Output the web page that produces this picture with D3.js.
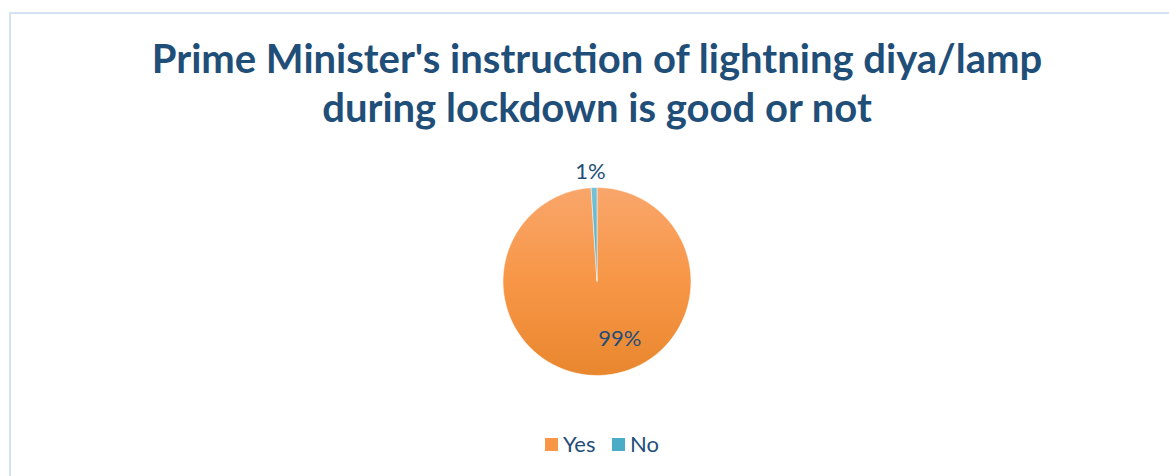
<!DOCTYPE html>
<meta charset="utf-8">
<style>
body { margin: 0; background: #fff; }
text { font-family: Lato, "Open Sans", sans-serif; fill: #1F4E79; }
</style>
<svg width="1169" height="476"></svg>
<script src="https://d3js.org/d3.v7.min.js"></script>
<script>

// survey answers
var categories = ["Yes", "No"];
var shares = [99, 1];
var labels = ["99%", "1%"];
var title_lines = ["Prime Minister's instruction of lightning diya/lamp",
                   "during lockdown is good or not"];

var svg = d3.select("svg"),
    width = +svg.attr("width"),
    height = +svg.attr("height");

var cx = 597, cy = 281.5, radius = 94;

// chart area frame (runs off the right and bottom edges)
svg.append("rect")
    .attr("x", 10)
    .attr("y", 13)
    .attr("width", width)
    .attr("height", height)
    .style("fill", "none")
    .style("stroke", "#D5E2F3")
    .style("stroke-width", 2);

// gradients for the slices (in the pie group's frame)
var defs = svg.append("defs");
var stops = {
  Yes: ["#F9A66B", "#F79646", "#E9872F"],
  No:  ["#74C2D8", "#4BACC6", "#3A9DB8"]
};
categories.forEach(function(c) {
  var lg = defs.append("linearGradient")
      .attr("id", "grad_" + c)
      .attr("gradientUnits", "userSpaceOnUse")
      .attr("x1", 0).attr("y1", -radius)
      .attr("x2", 0).attr("y2", radius);
  lg.append("stop").attr("offset", "0%").attr("stop-color", stops[c][0]);
  lg.append("stop").attr("offset", "50%").attr("stop-color", stops[c][1]);
  lg.append("stop").attr("offset", "100%").attr("stop-color", stops[c][2]);
});

// title
svg.append("g")
    .selectAll("text")
    .data(title_lines)
    .enter().append("text")
    .attr("x", cx)
    .attr("y", function(d, i) { return 73 + i * 49; })
    .attr("text-anchor", "middle")
    .style("font-size", "40px")
    .style("font-weight", "bold")
    .text(function(d) { return d; });

// pie
var pie = d3.pie().sort(null).value(function(d) { return d; });
var arc = d3.arc().innerRadius(0).outerRadius(radius);
var arcs = pie(shares);

var g = svg.append("g").attr("transform", "translate(" + cx + "," + cy + ")");

g.selectAll("path")
    .data(arcs)
    .enter().append("path")
    .attr("d", arc)
    .style("fill", function(d, i) { return "url(#grad_" + categories[i] + ")"; })
    .style("stroke", "#fff")
    .style("stroke-width", 0.5);

// data labels: big slice inside (best fit nudges it right), tiny slice outside
var inner = d3.arc().innerRadius(radius * 0.6).outerRadius(radius * 0.6);
var outer = d3.arc().innerRadius(radius + 16).outerRadius(radius + 16);
var nudge = [[21, 8], [-3, 7]];

g.selectAll(".lbl")
    .data(arcs)
    .enter().append("text")
    .attr("class", "lbl")
    .attr("text-anchor", "middle")
    .attr("x", function(d, i) { return (i == 0 ? inner : outer).centroid(d)[0] + nudge[i][0]; })
    .attr("y", function(d, i) { return (i == 0 ? inner : outer).centroid(d)[1] + nudge[i][1]; })
    .style("font-size", "22px")
    .text(function(d, i) { return labels[i]; });

// legend
var legend = svg.append("g").attr("transform", "translate(545,438)");
var item_x = [0, 67];
var items = legend.selectAll("g")
    .data(categories)
    .enter().append("g")
    .attr("transform", function(d, i) { return "translate(" + item_x[i] + ",0)"; });

items.append("rect")
    .attr("width", 13)
    .attr("height", 13)
    .style("fill", function(d) { return stops[d][1]; });

items.append("text")
    .attr("x", 18)
    .attr("y", 14)
    .style("font-size", "22px")
    .text(function(d) { return d; });

</script>
